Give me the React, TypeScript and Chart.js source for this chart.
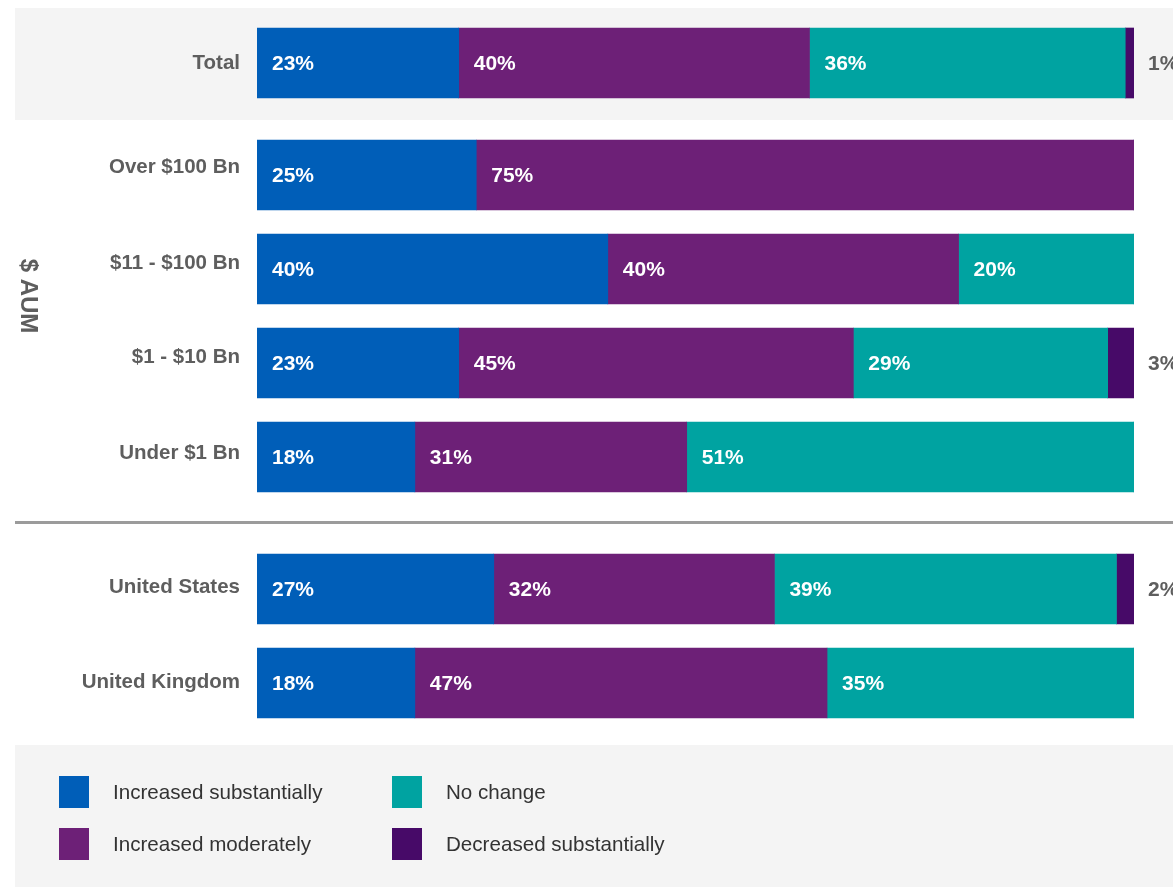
import React, { useEffect, useRef } from "react";
import { Chart, registerables } from "chart.js";

Chart.register(...registerables);

// ---- Data ----
const categories = [
  "Total",
  "Over $100 Bn",
  "$11 - $100 Bn",
  "$1 - $10 Bn",
  "Under $1 Bn",
  "United States",
  "United Kingdom",
];
// group of each row: 0 = total, 1 = $ AUM, 2 = country
const rowGroups = [0, 1, 1, 1, 1, 2, 2];

const seriesNames = [
  "Increased substantially",
  "Increased moderately",
  "No change",
  "Decreased substantially",
];
const increasedSubstantially = [23, 25, 40, 23, 18, 27, 18];
const increasedModerately = [40, 75, 40, 45, 31, 32, 47];
const noChange = [36, 0, 20, 29, 51, 39, 35];
const decreasedSubstantially = [1, 0, 0, 3, 0, 2, 0];

const seriesColors = ["#005EB8", "#6D2077", "#00A3A1", "#470A68"];
const groupTitle = "$ AUM";

// ---- Layout ----
const W = 1173;
const H = 887;
const FONT = '"Liberation Sans", Arial, Helvetica, sans-serif';
const ROW_PX = 94;
const GROUP_EXTRA_PX = [0, 18, 38]; // extra space before each group
const LABEL_NUDGE_PX = [0, 8, 6, 6, 4, 2, 1]; // category labels sit slightly above bar centres

function rowPositions(): number[] {
  const cum: number[] = [];
  let acc = 0;
  for (let g = 0; g < GROUP_EXTRA_PX.length; g++) {
    acc += GROUP_EXTRA_PX[g];
    cum.push(acc);
  }
  return categories.map((_, i) => i + cum[rowGroups[i]] / ROW_PX);
}

export default function App() {
  const ref = useRef<HTMLCanvasElement | null>(null);

  useEffect(() => {
    if (!ref.current) return;
    const pos = rowPositions();
    const all = [
      increasedSubstantially,
      increasedModerately,
      noChange,
      decreasedSubstantially,
    ];

    const decorPlugin = {
      id: "decor",
      beforeDraw(chart: any) {
        const ctx = chart.ctx;
        const ys = chart.scales.y;
        ctx.save();
        // total band
        const yT = ys.getPixelForValue(pos[0]);
        ctx.fillStyle = "#F4F4F4";
        ctx.fillRect(15, yT - 55, W - 15, 112);
        // legend band
        ctx.fillRect(15, 745, W - 15, H - 745);
        // divider between groups
        const yA = ys.getPixelForValue(pos[4]);
        const yB = ys.getPixelForValue(pos[5]);
        const yd = (yA + yB) / 2;
        ctx.fillStyle = "#9B9B9B";
        ctx.fillRect(15, Math.round(yd) - 2, W - 15, 3);
        // $ AUM title
        const g1 = pos.filter((_, i) => rowGroups[i] === 1);
        const yMid =
          (ys.getPixelForValue(g1[0]) + ys.getPixelForValue(g1[g1.length - 1])) / 2 - 20;
        ctx.translate(28, yMid);
        ctx.rotate(Math.PI / 2);
        ctx.font = `bold 24px ${FONT}`;
        ctx.fillStyle = "#5E5E5E";
        ctx.textAlign = "center";
        ctx.textBaseline = "middle";
        ctx.fillText(groupTitle, 0, 0);
        ctx.restore();
      },
      afterDatasetsDraw(chart: any) {
        const ctx = chart.ctx;
        ctx.save();
        ctx.font = `bold 21px ${FONT}`;
        ctx.textBaseline = "middle";
        ctx.textAlign = "left";
        chart.data.datasets.forEach((ds: any, di: number) => {
          const meta = chart.getDatasetMeta(di);
          meta.data.forEach((el: any, i: number) => {
            const v = ds.data[i].x;
            if (!v) return;
            const p = el.getProps(["x", "y", "base"], true);
            const left = Math.min(p.x, p.base);
            const label = `${v}%`;
            if (v >= 5) {
              ctx.fillStyle = "#FFFFFF";
              ctx.fillText(label, left + 15, p.y + 1);
            } else {
              ctx.fillStyle = "#5E5E5E";
              ctx.fillText(label, chart.chartArea.right + 14, p.y + 1);
            }
          });
        });
        ctx.restore();
      },
      afterDraw(chart: any) {
        const ctx = chart.ctx;
        ctx.save();
        const cols = [59, 392];
        const rows = [776, 828];
        ctx.font = `20.6px ${FONT}`;
        ctx.textBaseline = "middle";
        ctx.textAlign = "left";
        seriesNames.forEach((name, i) => {
          const c = Math.floor(i / 2);
          const r = i % 2;
          ctx.fillStyle = seriesColors[i];
          ctx.fillRect(cols[c], rows[r], 30, 32);
          ctx.fillStyle = "#333333";
          ctx.fillText(name, cols[c] + 54, rows[r] + 17);
        });
        ctx.restore();
      },
    };

    const chart = new Chart(ref.current, {
      type: "bar",
      data: {
        datasets: all.map((arr, di) => ({
          label: seriesNames[di],
          data: arr.map((v, i) => ({ x: v, y: pos[i] })),
          backgroundColor: seriesColors[di],
          borderWidth: 0,
          barThickness: 70,
        })),
      },
      options: {
        indexAxis: "y",
        animation: false,
        responsive: false,
        events: [],
        layout: { padding: { top: 16, bottom: 157, left: 0, right: 39 } },
        plugins: {
          legend: { display: false },
          tooltip: { enabled: false },
        },
        scales: {
          x: {
            type: "linear",
            stacked: true,
            min: 0,
            max: 100,
            display: false,
          },
          y: {
            type: "linear",
            stacked: true,
            reverse: true,
            offset: false,
            bounds: "data",
            min: -0.5,
            max: pos[pos.length - 1] + 0.5,
            grid: { display: false, drawTicks: false, offset: false },
            border: { display: false },
            afterBuildTicks: (scale: any) => {
              scale.ticks = pos.map((v, i) => ({
                value: v - LABEL_NUDGE_PX[i] / ROW_PX,
              }));
            },
            afterFit: (scale: any) => {
              scale.width = 257;
              scale.paddingTop = 0;
              scale.paddingBottom = 0;
            },
            ticks: {
              autoSkip: false,
              padding: 17,
              color: "#5E5E5E",
              font: { family: FONT, size: 20.5, weight: "bold" },
              callback: (_v: any, i: number) => categories[i],
            },
          },
        },
      },
      plugins: [decorPlugin],
    } as any);

    return () => chart.destroy();
  }, []);

  return (
    <div
      style={{
        position: "fixed",
        left: 0,
        top: 0,
        width: W,
        height: H,
        background: "#FFFFFF",
        overflow: "hidden",
      }}
    >
      <canvas ref={ref} width={W} height={H} />
    </div>
  );
}
